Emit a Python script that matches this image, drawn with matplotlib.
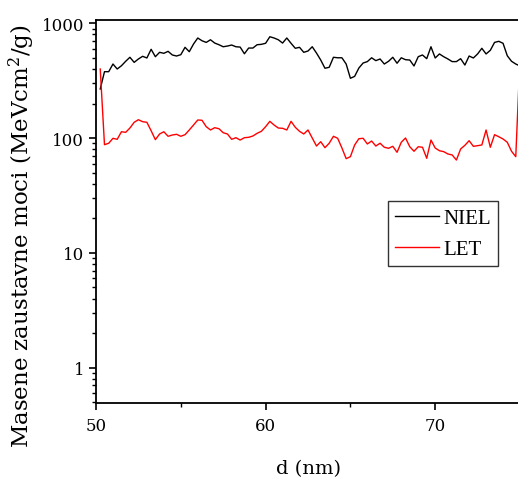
import numpy as np
import matplotlib
matplotlib.use('Agg')
import matplotlib.pyplot as plt
from matplotlib.ticker import FixedLocator, NullFormatter

# depth grid (nm), sampled every 0.25 nm
d = np.arange(50.25, 75.01, 0.25)

niel = [268, 379, 379, 442, 400, 427, 467, 506, 457, 489, 516, 499, 594, 512, 559, 548, 570,
        530, 519, 533, 618, 566, 660, 745, 705, 682, 719, 673, 651, 625, 634, 647, 625,
        621, 543, 609, 609, 651, 656, 670, 764, 745, 719, 673, 745, 670, 606, 618, 559, 574,
        625, 551, 479, 406, 414, 506, 501, 501, 442, 332, 345, 408, 451, 464, 501, 473,
        489, 442, 467, 506, 449, 501, 482, 479, 425, 512, 530, 492, 625, 499, 541, 512, 489,
        464, 464, 492, 433, 519, 499, 541, 606, 541, 582, 682, 697, 670, 522, 467, 442, 425]

let = [400, 87.6, 90.2, 99.6, 97.6, 113.6, 112.3, 122.4, 137.3, 144.6, 139, 137.3, 116, 96.9,
       108.6, 113.6, 103.7, 106.4, 107.9, 103.7, 107.1, 117.7, 130, 143.8, 143, 125.7, 117.7,
       123.2, 120.7, 111.4, 108.6, 97.6, 100.8,
       96.2, 100.8, 101.6, 104.3, 110.1, 114.6, 125.7, 140, 130, 122.4, 121.7, 117.7, 140,
       124.2, 114.6, 108.6, 117.7, 100.2, 85.3, 93.0, 82.5, 90.2, 103.7, 99.6, 82, 66.2, 68.9,
       87.1, 98.8, 99.6, 88.9, 94.3, 85.3,
       90.2, 83.2, 81.5, 84.8, 75.2, 92, 100.2, 84.1, 76.8, 84.1, 83.2, 66.7, 96.2, 82, 77.6,
       76.2, 72.7, 71.3, 64.4, 80.4, 86.5, 94.9, 84.8, 85.9, 87.1, 117.7, 83.2, 107.1, 102.8,
       98.2, 92, 76.8, 68.9, 500]

x_ticks = [50, 60, 70]
y_ticks = [1, 10, 100, 1000]

plt.rcParams['font.family'] = ['DejaVu Serif']
plt.rcParams['mathtext.fontset'] = 'dejavuserif'

fig = plt.figure(figsize = (5.18, 4.85), dpi = 100)
# axes runs slightly past the right edge of the picture, like the cropped original
ax = fig.add_axes([96 / 518, 81 / 485, 424 / 518, 383 / 485])

ax.plot(d, niel, color = 'black', lw = 1.0, label = 'NIEL')
ax.plot(d, let, color = 'red', lw = 1.0, label = 'LET')

ax.set_yscale('log')
ax.set_xlim(50, 75)
ax.set_ylim(0.492, 1069)

ax.xaxis.set_major_locator(FixedLocator(x_ticks))
ax.xaxis.set_minor_locator(FixedLocator([55, 65, 75]))
ax.set_yticks(y_ticks)
ax.set_yticklabels([str(v) for v in y_ticks])
ax.yaxis.set_minor_formatter(NullFormatter())

for s in ax.spines.values():
    s.set_linewidth(1.3)
ax.tick_params(which = 'major', direction = 'out', length = 5, width = 1.2, labelsize = 12)
ax.tick_params(which = 'minor', direction = 'out', length = 3, width = 1.0)
ax.tick_params(axis = 'x', pad = 5)

ax.set_xlabel('d (nm)', fontsize = 14, labelpad = 18)
ax.set_ylabel('Masene zaustavne moci (MeVcm$^2$/g)', fontsize = 16.5)
# label sits a bit below the axes centre in the original
ax.yaxis.set_label_coords(-0.139, 0.439)

leg = ax.legend(loc = 'upper left', bbox_to_anchor = (0.689, 0.527), borderaxespad = 0,
                prop = {'family': 'Liberation Serif', 'size': 15},
                frameon = True, fancybox = False, edgecolor = 'black', handlelength = 2.1,
                handletextpad = 0.2, borderpad = 0.35, labelspacing = 0.55)
leg.get_frame().set_linewidth(1.0)

fig.savefig('out.png', dpi = 100)
